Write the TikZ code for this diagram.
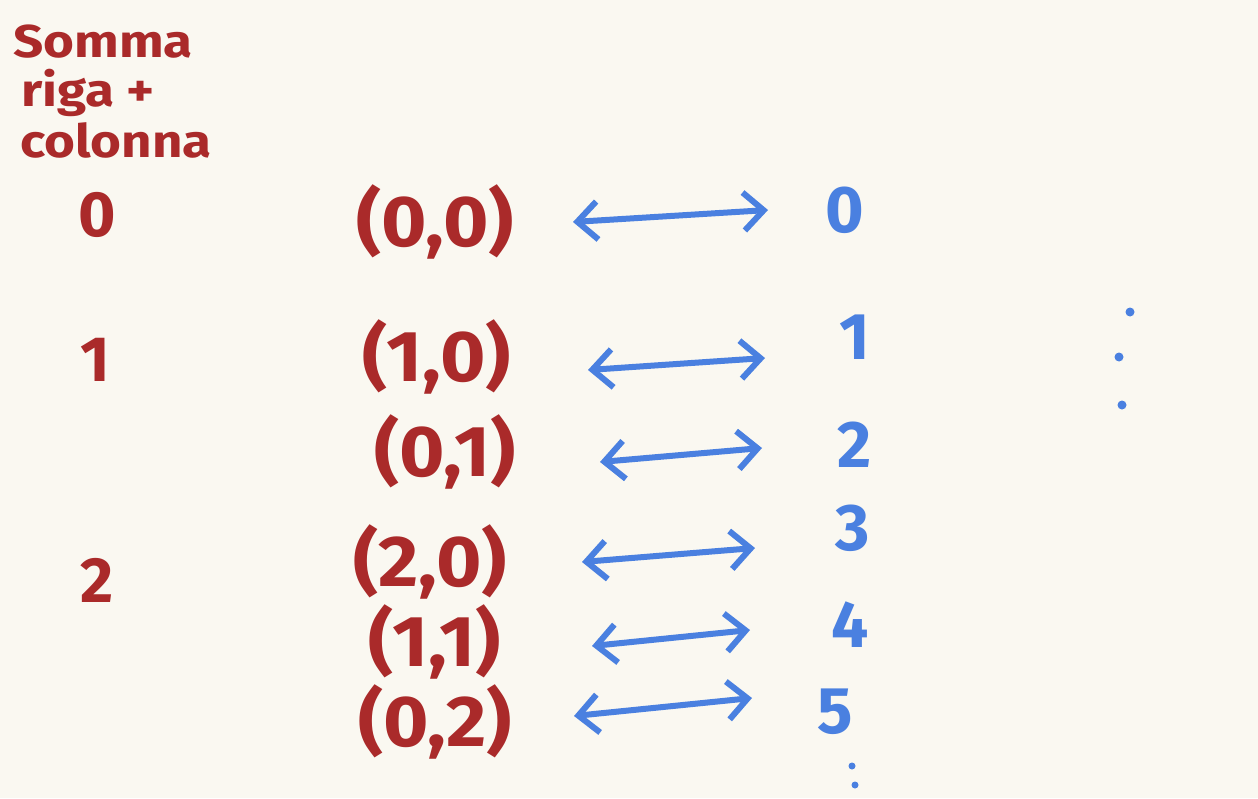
\documentclass[tikz,border=0pt]{standalone}
\usepackage{fontspec}
\setmainfont{Fira Sans}
\usetikzlibrary{arrows.meta}
\definecolor{bg}{HTML}{FAF8F1}
\definecolor{ink}{HTML}{AA2A2A}
\definecolor{pen}{HTML}{4A80E0}
\tikzset{
  redtxt/.style={text=ink, inner sep=0pt, xscale=1.15, transform shape, font=\fontsize{46}{48}\selectfont\bfseries},
  pairtxt/.style={text=ink, inner sep=0pt, xscale=1.08, transform shape, font=\fontsize{72}{72}\selectfont\bfseries},
  sumtxt/.style={text=ink, inner sep=0pt, font=\fontsize{64}{64}\selectfont\bfseries},
  bluetxt/.style={text=pen, inner sep=0pt, font=\fontsize{66}{66}\selectfont\bfseries},
  dot/.style={fill=pen, draw=none},
  biarrow/.style={draw=pen, line width=6pt, line cap=round, line join=round,
    {Straight Barb[length=20pt,width=38pt,line width=6pt]}-{Straight Barb[length=20pt,width=38pt,line width=6pt]}},
}
\begin{document}
\begin{tikzpicture}[x=1pt,y=-1pt]
\fill[bg] (0,0) rectangle (1258,798);
\useasboundingbox (0,0) rectangle (1258,798);
% header
\node[redtxt] (h1) at (103,42) {Somma};
\node[redtxt] (h2) at (88,93) {riga +};
\node[redtxt] (h3) at (116,140) {colonna};
% sums
\node[sumtxt] (s0) at (97,215) {0};
\node[sumtxt] (s1) at (95,360) {1};
\node[sumtxt] (s2) at (97,580) {2};
% pairs
\node[pairtxt] (p00) at (435,222) {(0,0)};
\node[pairtxt] (p10) at (437,357) {(1,0)};
\node[pairtxt] (p01) at (445,452) {(0,1)};
\node[pairtxt] (p20) at (430,562) {(2,0)};
\node[pairtxt] (p11) at (435,642) {(1,1)};
\node[pairtxt] (p02) at (435,722) {(0,2)};
% indices
\node[bluetxt] (n0) at (845,210) {0};
\node[bluetxt] (n1) at (855,337) {1};
\node[bluetxt] (n2) at (855,445) {2};
\node[bluetxt] (n3) at (853,528) {3};
\node[bluetxt] (n4) at (850,625) {4};
\node[bluetxt] (n5) at (835,712) {5};
% vertical dots
\fill[dot] (1130,312) circle (4.5);
\fill[dot] (1119,357) circle (4.5);
\fill[dot] (1122,405) circle (4.5);
\fill[dot] (852,766) circle (3.5);
\fill[dot] (855,785) circle (3.5);
% arrow end points
\coordinate (a0l) at (573,222); \coordinate (a0r) at (768,210);
\coordinate (a1l) at (588,370); \coordinate (a1r) at (765,358);
\coordinate (a2l) at (600,462); \coordinate (a2r) at (762,448);
\coordinate (a3l) at (582,562); \coordinate (a3r) at (755,548);
\coordinate (a4l) at (592,646); \coordinate (a4r) at (750,630);
\coordinate (a5l) at (574,716); \coordinate (a5r) at (752,698);
\draw[biarrow] (a0l) -- (a0r);
\draw[biarrow] (a1l) -- (a1r);
\draw[biarrow] (a2l) -- (a2r);
\draw[biarrow] (a3l) -- (a3r);
\draw[biarrow] (a4l) -- (a4r);
\draw[biarrow] (a5l) -- (a5r);
\end{tikzpicture}
\end{document}
